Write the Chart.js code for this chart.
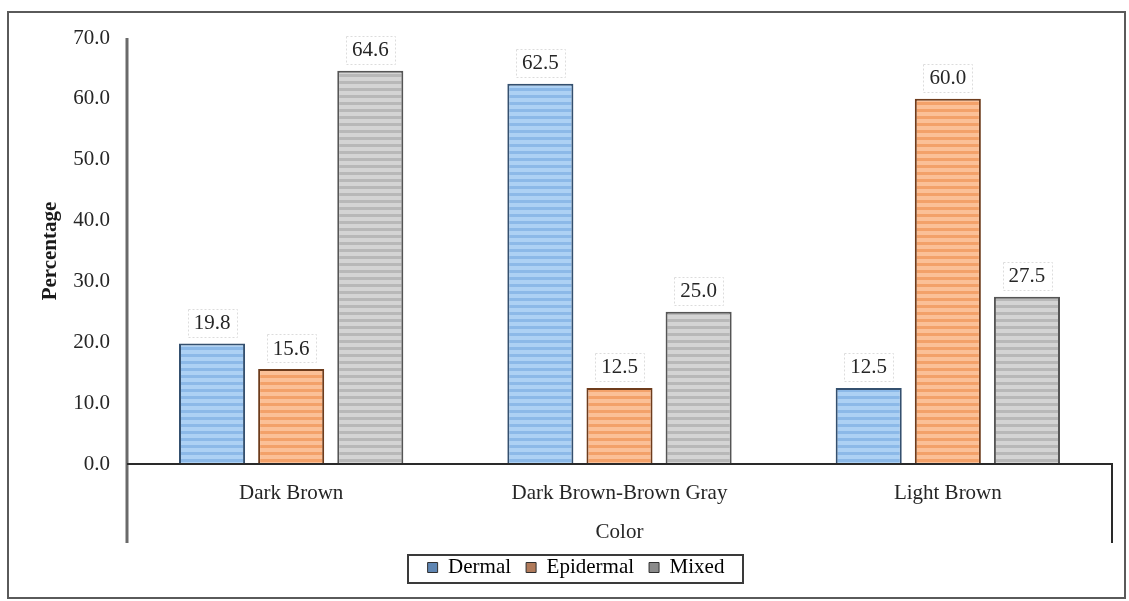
<!DOCTYPE html>
<html>
<head>
<meta charset="utf-8">
<script src="https://cdn.jsdelivr.net/npm/chart.js@4/dist/chart.umd.min.js"></script>
<style>
  html, body { margin: 0; padding: 0; background: #ffffff; }
  #wrap { position: relative; width: 1129px; height: 601px; }
  #frame { position: absolute; left: 7px; top: 11px; width: 1115px; height: 584px; border: 2px solid #5a5a5a; pointer-events: none; }
  canvas { position: absolute; left: 0; top: 0; }
</style>
</head>
<body>
<div id="wrap">
  <canvas id="chart" width="1129" height="601"></canvas>
  <div id="frame"></div>
</div>
<script>
// Categories and series (percentages)
const categories = ['Dark Brown', 'Dark Brown-Brown Gray', 'Light Brown'];
const dermal = [19.8, 62.5, 12.5];
const epidermal = [15.6, 12.5, 60.0];
const mixed = [64.6, 25.0, 27.5];
const seriesNames = ['Dermal', 'Epidermal', 'Mixed'];
const yTicks = [0, 10, 20, 30, 40, 50, 60, 70];

const SERIF = '"Liberation Serif", "Times New Roman", serif';
const FS = 21;

// Horizontal striped fill used for each bar series
function stripes(light, dark) {
  const c = document.createElement('canvas');
  c.width = 8; c.height = 7;
  const g = c.getContext('2d');
  g.fillStyle = light; g.fillRect(0, 0, 8, 7);
  g.fillStyle = dark; g.fillRect(0, 4, 8, 3);
  return g.createPattern(c, 'repeat');
}

const styles = [
  { fill: stripes('#add1f4', '#8cb9e8'), border: '#34506f', legend: '#5f86b3' },
  { fill: stripes('#fbc097', '#f3a169'), border: '#6e3c1c', legend: '#b07a5a' },
  { fill: stripes('#d4d4d4', '#b8b8b8'), border: '#555555', legend: '#8a8a8a' }
];

// Value labels above each bar, in faint dotted boxes
const valueLabels = {
  id: 'valueLabels',
  afterDatasetsDraw(chart) {
    const ctx = chart.ctx;
    ctx.save();
    ctx.font = FS + 'px ' + SERIF;
    ctx.textAlign = 'center';
    ctx.textBaseline = 'middle';
    chart.data.datasets.forEach((ds, i) => {
      const meta = chart.getDatasetMeta(i);
      meta.data.forEach((bar, j) => {
        const txt = ds.data[j].toFixed(1);
        const cy = bar.y - 21;
        const w = ctx.measureText(txt).width + 12;
        ctx.strokeStyle = '#dcdcdc';
        ctx.lineWidth = 1;
        ctx.setLineDash([2, 2]);
        ctx.strokeRect(Math.round(bar.x - w / 2) + 0.5, Math.round(cy - 14) + 0.5, Math.round(w), 28);
        ctx.setLineDash([]);
        ctx.fillStyle = '#262626';
        ctx.fillText(txt, bar.x, cy + 1);
      });
    });
    ctx.restore();
  }
};

// Legend sits a little right of the canvas centre, under the plot
const legendShift = {
  id: 'legendShift',
  afterLayout(chart) {
    const lg = chart.legend;
    if (lg) { lg.left += 20; lg.right += 20; }
  }
};

// Axis lines: y axis and right edge extend below the category labels; legend border
const axisFrame = {
  id: 'axisFrame',
  afterDraw(chart) {
    const ctx = chart.ctx;
    const a = chart.chartArea;
    const xs = chart.scales.x;
    const lowEnd = xs.bottom + 1;
    ctx.save();
    ctx.strokeStyle = '#6a6a6a';
    ctx.lineWidth = 3;
    ctx.beginPath();
    ctx.moveTo(a.left, a.top);
    ctx.lineTo(a.left, lowEnd);
    ctx.stroke();
    ctx.strokeStyle = '#2a2a2a';
    ctx.lineWidth = 2;
    ctx.beginPath();
    ctx.moveTo(a.left, a.bottom);
    ctx.lineTo(a.right, a.bottom);
    ctx.lineTo(a.right, lowEnd);
    ctx.stroke();

    // box around the legend items
    const lg = chart.legend;
    if (lg && lg.legendHitBoxes && lg.legendHitBoxes.length) {
      const hb = lg.legendHitBoxes;
      const x0 = hb[0].left - 20;
      const last = hb[hb.length - 1];
      const x1 = last.left + last.width + 18;
      const cy = hb[0].top + hb[0].height / 2;
      ctx.strokeStyle = '#3a3a3a';
      ctx.lineWidth = 2;
      ctx.strokeRect(Math.round(x0), Math.round(cy - 13), Math.round(x1 - x0), 28);
    }
    ctx.restore();
  }
};

const chart = new Chart(document.getElementById('chart'), {
  type: 'bar',
  data: {
    labels: categories,
    datasets: [dermal, epidermal, mixed].map((vals, i) => ({
      label: seriesNames[i],
      data: vals,
      backgroundColor: styles[i].fill,
      borderColor: styles[i].border,
      borderWidth: 2,
      categoryPercentage: 0.723,
      barPercentage: 0.835
    }))
  },
  options: {
    responsive: false,
    animation: false,
    devicePixelRatio: 1,
    layout: { padding: { left: 0, right: 17, top: 38, bottom: 13 } },
    plugins: {
      tooltip: { enabled: false },
      legend: {
        position: 'bottom',
        align: 'center',
        labels: {
          font: { family: SERIF, size: FS },
          color: '#262626',
          boxWidth: 10,
          boxHeight: 10,
          padding: 15,
          generateLabels(chart) {
            return chart.data.datasets.map((ds, i) => ({
              text: ds.label,
              fillStyle: styles[i].legend,
              strokeStyle: '#303030',
              lineWidth: 1,
              datasetIndex: i
            }));
          }
        }
      }
    },
    scales: {
      x: {
        grid: { display: false, drawTicks: false },
        border: { display: false },
        ticks: { font: { family: SERIF, size: FS }, color: '#262626', padding: 17 },
        title: {
          display: true,
          text: 'Color',
          font: { family: SERIF, size: FS },
          color: '#262626',
          padding: { top: 14, bottom: -3 }
        },
        afterFit(scale) { scale.height = 78; }
      },
      y: {
        min: 0,
        max: 70,
        afterBuildTicks(scale) { scale.ticks = yTicks.map(v => ({ value: v })); },
        grid: { display: false, drawTicks: false },
        border: { display: false },
        ticks: {
          font: { family: SERIF, size: FS },
          color: '#262626',
          padding: 17,
          callback: v => Number(v).toFixed(1)
        },
        title: {
          display: true,
          text: 'Percentage',
          font: { family: SERIF, size: FS, weight: 'bold' },
          color: '#1a1a1a',
          padding: { top: 38, bottom: 0 }
        },
        afterFit(scale) { scale.width = 127; }
      }
    }
  },
  plugins: [legendShift, valueLabels, axisFrame]
});
</script>
</body>
</html>
